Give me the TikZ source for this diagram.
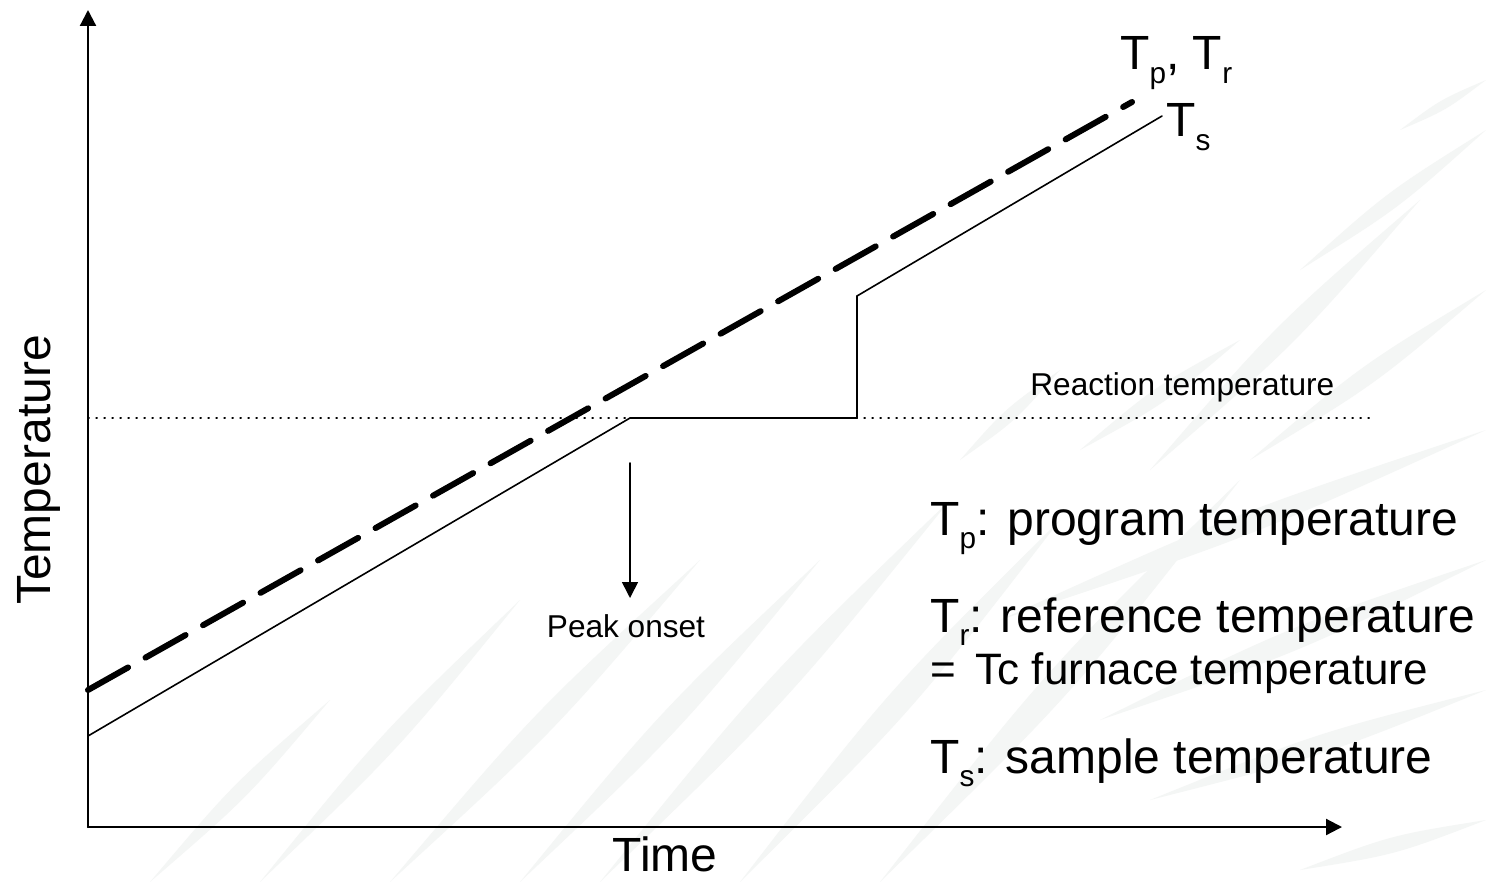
\documentclass[tikz,border=0pt]{standalone}
\usepackage{fontspec}
\setmainfont{Liberation Sans}
\usepackage{tkz-euclide}
\usetikzlibrary{calc}
\usetikzlibrary{arrows.meta}

\definecolor{swooshgray}{RGB}{244,246,245}
\tikzset{
    >={Triangle[width=8pt,length=8pt]},
    axis/.style={line width=1.1pt},
    progline/.style={line width=3pt,dash pattern=on 23pt off 10pt},
    sampleline/.style={line width=0.8pt},
    reactline/.style={line width=0.6pt,dash pattern=on 0.6pt off 3.4pt},
    swoosh/.style={fill=swooshgray},
    biglabel/.style={inner sep=0pt,font=\fontsize{24}{28}\selectfont},
    midlabel/.style={inner sep=0pt,font=\fontsize{22}{26}\selectfont},
    smalllabel/.style={inner sep=0pt,font=\fontsize{15.8}{19}\selectfont}
}
\newcommand{\lsub}[1]{\raisebox{-0.28em}{\scalebox{0.62}{#1}}}

\begin{document}
\begin{tikzpicture}[x=0.5pt,y=-0.5pt]
                    \useasboundingbox[fill=white] (0,0) rectangle (1486,882);

                    \foreach \xa/\ya/\xb/\yb/\w in {
                        150/882/330/700/5, 260/882/520/600/6, 390/882/700/560/7,
                        520/882/820/560/7, 600/882/950/500/8, 740/882/1060/520/8,
                        880/882/1240/480/9, 960/460/1060/370/4, 1080/450/1240/340/5,
                        1150/470/1420/200/7, 1250/460/1486/290/6, 1300/270/1486/130/5,
                        1000/620/1486/430/7, 1100/720/1486/560/7, 1150/800/1486/690/6,
                        1300/870/1486/820/5, 1400/130/1486/80/3}
                    {
                        \fill[swoosh] (\xa,\ya)
                            .. controls ($(\xa,\ya)!0.5!(\xb,\yb)!\w pt!90:(\xb,\yb)$) .. (\xb,\yb)
                            .. controls ($(\xa,\ya)!0.5!(\xb,\yb)!\w pt!-90:(\xb,\yb)$) .. (\xa,\ya);
                    }

                    \tkzDefPoint(88,827){O}
                    \tkzDefPoint(88,10){Y}
                    \tkzDefPoint(1342,827){X}
                    \tkzDrawSegment[->,axis](O,Y)
                    \tkzDrawSegment[->,axis](O,X)

                    \tkzDefPoint(88,418){R1}
                    \tkzDefPoint(1375,418){R2}
                    \tkzDrawSegment[reactline](R1,R2)

                    \tkzDefPoint(88,690){P1}
                    \tkzDefPoint(1132,102){P2}
                    \tkzDrawSegment[progline](P1,P2)

                    \tkzDefPoint(88,736){S1}
                    \tkzDefPoint(630,418){S2}
                    \tkzDefPoint(857,418){S3}
                    \tkzDefPoint(857,296){S4}
                    \tkzDefPoint(1162,116){S5}
                    \tkzDrawSegments[sampleline](S1,S2 S2,S3 S3,S4 S4,S5)

                    \tkzDefPoint(630,463){A1}
                    \tkzDefPoint(630,598){A2}
                    \tkzDrawSegment[->,sampleline](A1,A2)

                    \node[biglabel,rotate=90,anchor=base] (templabel) at (50,470) {Temperature};
                    \node[biglabel,anchor=base] (timelabel) at (665,871) {Time};
                    \node[biglabel,anchor=base west] (prlabel) at (1120,70) {T\lsub{p}, T\lsub{r}};
                    \node[biglabel,anchor=base west] (slabel) at (1166,137) {T\lsub{s}};
                    \node[smalllabel,anchor=base west] (reactlabel) at (1030,395) {Reaction temperature};
                    \node[smalllabel,anchor=base] (onsetlabel) at (626,637) {Peak onset};

                    \node[biglabel,anchor=base west] (legp) at (930,535) {T\lsub{p}: program temperature};
                    \node[biglabel,anchor=base west] (legr) at (930,632) {T\lsub{r}: reference temperature};
                    \node[midlabel,anchor=base west] (legc) at (930,684) {= \,Tc furnace temperature};
                    \node[biglabel,anchor=base west] (legs) at (930,773) {T\lsub{s}: sample temperature};
                \end{tikzpicture}
\end{document}
